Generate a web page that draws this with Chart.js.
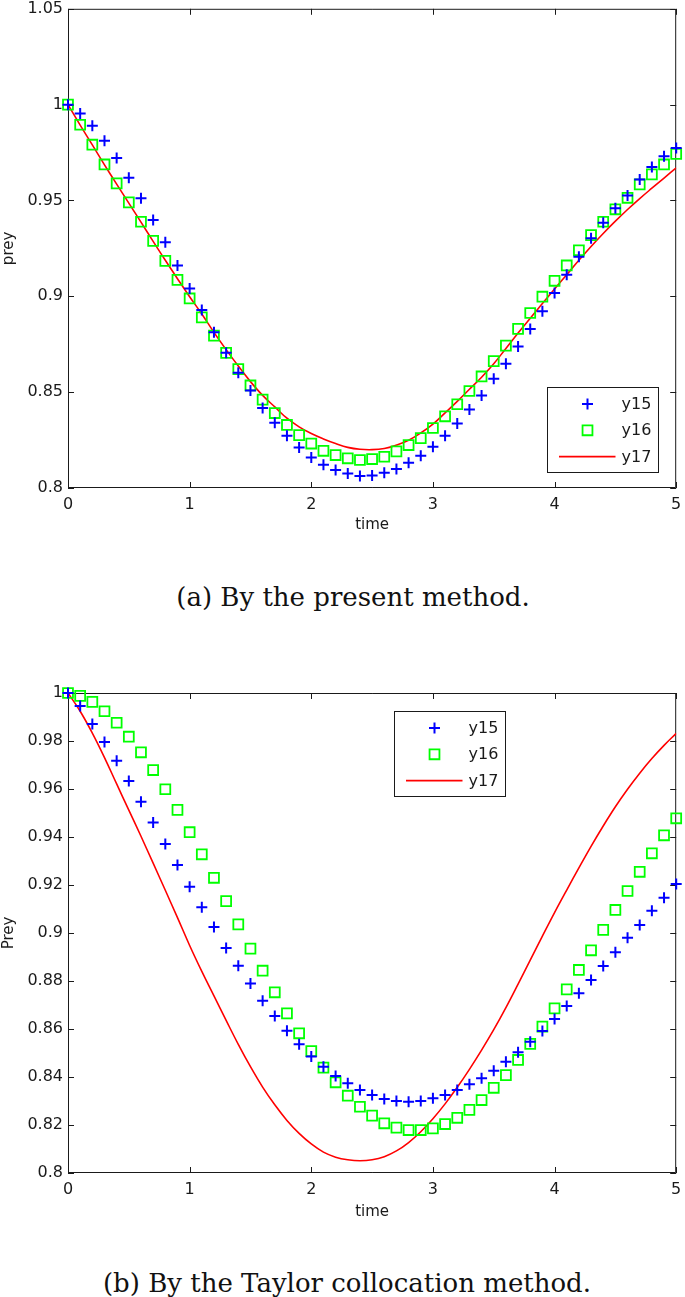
<!DOCTYPE html>
<html>
<head>
<meta charset="utf-8">
<script src="https://cdn.jsdelivr.net/npm/chart.js@4/dist/chart.umd.min.js"></script>
<style>
  html, body { margin: 0; padding: 0; background: #fff; }
  body { width: 685px; height: 1297px; position: relative; overflow: hidden; }
  .box { position: absolute; left: 0; width: 685px; }
  .cap {
    position: absolute; transform: translateX(-50%);
    font-family: 'DejaVu Serif', serif; font-size: 26px; line-height: 30px;
    color: #111; white-space: nowrap;
  }
</style>
</head>
<body>
<div class="box" style="top:0;height:540px"><canvas id="chartA"></canvas></div>
<div class="cap" style="left:353px;top:582px">(a) By the present method.</div>
<div class="box" style="top:680px;height:545px"><canvas id="chartB"></canvas></div>
<div class="cap" style="left:347px;top:1268px">(b) By the Taylor collocation method.</div>
<script>
'use strict'

// time grid shared by both panels
const time = [
  0, 0.1, 0.2, 0.3, 0.4, 0.5, 0.6, 0.7, 0.8, 0.9,
  1, 1.1, 1.2, 1.3, 1.4, 1.5, 1.6, 1.7, 1.8, 1.9,
  2, 2.1, 2.2, 2.3, 2.4, 2.5, 2.6, 2.7, 2.8, 2.9,
  3, 3.1, 3.2, 3.3, 3.4, 3.5, 3.6, 3.7, 3.8, 3.9,
  4, 4.1, 4.2, 4.3, 4.4, 4.5, 4.6, 4.7, 4.8, 4.9, 5,
]

// (a) present method
const y15A = [
  1.0, 0.9954, 0.989, 0.9812, 0.9722, 0.9618, 0.9512, 0.9398, 0.9282, 0.9161,
  0.9041, 0.8929, 0.8812, 0.8705, 0.8601, 0.8509, 0.8417, 0.8341, 0.8272, 0.8211,
  0.8159, 0.8121, 0.8094, 0.8075, 0.8062, 0.8065, 0.808, 0.8099, 0.8132, 0.8168,
  0.8215, 0.8272, 0.8336, 0.8409, 0.8483, 0.857, 0.8648, 0.8738, 0.883, 0.8922,
  0.9017, 0.9112, 0.9206, 0.9303, 0.9384, 0.9459, 0.9526, 0.961, 0.9675, 0.9731, 0.9774,
]
const y16A = [
  1.0, 0.9895, 0.9791, 0.9688, 0.9589, 0.949, 0.9389, 0.9289, 0.9185, 0.9086,
  0.8989, 0.889, 0.8795, 0.8705, 0.862, 0.8535, 0.8461, 0.8391, 0.8329, 0.8276,
  0.8232, 0.8194, 0.8172, 0.8155, 0.8146, 0.8151, 0.8163, 0.8191, 0.8224, 0.826,
  0.8313, 0.8374, 0.8437, 0.8506, 0.8582, 0.8662, 0.8743, 0.883, 0.8913, 0.8998,
  0.9081, 0.9161, 0.924, 0.9319, 0.9389, 0.9454, 0.9514, 0.9584, 0.9636, 0.9688, 0.9743,
]
const y17A = [
  1.0, 0.9893, 0.979, 0.9686, 0.9585, 0.9486, 0.9387, 0.9287, 0.9188, 0.9092,
  0.8998, 0.8908, 0.8812, 0.8722, 0.8636, 0.8555, 0.8483, 0.8423, 0.8364, 0.8319,
  0.8284, 0.8256, 0.8232, 0.8212, 0.8202, 0.82, 0.8206, 0.8224, 0.8249, 0.8287,
  0.8333, 0.8392, 0.8452, 0.8515, 0.8578, 0.8648, 0.8728, 0.8808, 0.8886, 0.8962,
  0.9038, 0.9113, 0.9188, 0.926, 0.9328, 0.9392, 0.9453, 0.951, 0.9564, 0.9617, 0.967,
]

// (b) Taylor collocation method
const y15B = [
  1.0, 0.9946, 0.9871, 0.9796, 0.9718, 0.9633, 0.9547, 0.946, 0.9371, 0.9283,
  0.9193, 0.9107, 0.9025, 0.8938, 0.8864, 0.879, 0.8718, 0.8654, 0.8593, 0.8536,
  0.8485, 0.8443, 0.8404, 0.8374, 0.8346, 0.8325, 0.8308, 0.83, 0.8297, 0.83,
  0.8311, 0.8325, 0.8346, 0.837, 0.8395, 0.8426, 0.8464, 0.8503, 0.8547, 0.8592,
  0.8642, 0.8696, 0.8749, 0.8804, 0.8863, 0.892, 0.898, 0.9033, 0.9093, 0.9147, 0.9204,
]
const y16B = [
  1.0, 0.9988, 0.9963, 0.9924, 0.9876, 0.9818, 0.9753, 0.9679, 0.9599, 0.9513,
  0.942, 0.9328, 0.923, 0.9133, 0.9036, 0.8935, 0.8843, 0.8753, 0.8665, 0.8582,
  0.8508, 0.8439, 0.8378, 0.8322, 0.8276, 0.8239, 0.8207, 0.8189, 0.8179, 0.8179,
  0.8186, 0.8204, 0.823, 0.8263, 0.8304, 0.8355, 0.8408, 0.8471, 0.8538, 0.861,
  0.8686, 0.8765, 0.8846, 0.8928, 0.9013, 0.9096, 0.9175, 0.9255, 0.9332, 0.9407, 0.9478,
]
const y17B = [
  1.0, 0.9924, 0.9833, 0.9731, 0.9621, 0.9512, 0.9403, 0.9291, 0.9178, 0.9064,
  0.8948, 0.884, 0.8738, 0.8636, 0.8536, 0.8443, 0.8358, 0.8284, 0.8219, 0.8165,
  0.8121, 0.8087, 0.8066, 0.8055, 0.8051, 0.8055, 0.8068, 0.8092, 0.8127, 0.8172,
  0.8226, 0.8288, 0.8357, 0.8432, 0.8512, 0.8597, 0.8689, 0.8787, 0.8887, 0.8987,
  0.9085, 0.9179, 0.9271, 0.9361, 0.9446, 0.9526, 0.9599, 0.9666, 0.9727, 0.9782, 0.9832,
]

const seriesLabels = ['y15', 'y16', 'y17']
const xTicks = [0, 1, 2, 3, 4, 5]
const yTicksA = [0.8, 0.85, 0.9, 0.95, 1, 1.05]
const yTicksB = [0.8, 0.82, 0.84, 0.86, 0.88, 0.9, 0.92, 0.94, 0.96, 0.98, 1]

const INK = '#1a1a1a'
const tickFont = { family: 'DejaVu Sans', size: 16 }
const titleFont = { family: 'DejaVu Sans', size: 15 }

function pts(ys) {
  return ys.map((y, i) => ({ x: time[i], y: y }))
}

function drawMarker(ctx, style, x, y, r, color, lw) {
  ctx.strokeStyle = color
  ctx.lineWidth = lw
  ctx.beginPath()
  if (style === 'cross') {
    ctx.moveTo(x - r, y)
    ctx.lineTo(x + r, y)
    ctx.moveTo(x, y - r)
    ctx.lineTo(x, y + r)
  } else {
    const s = r * Math.SQRT1_2
    ctx.rect(x - s, y - s, 2 * s, 2 * s)
  }
  ctx.stroke()
}

// matlab style box with inward ticks on all four sides
const axesFrame = {
  id: 'axesFrame',
  beforeDatasetsDraw(chart) {
    const { ctx, chartArea: a, scales } = chart
    const len = 6
    ctx.save()
    ctx.strokeStyle = INK
    ctx.lineWidth = 1
    ctx.beginPath()
    ctx.rect(a.left + 0.5, a.top + 0.5, a.width - 1, a.height - 1)
    scales.x.ticks.forEach((t) => {
      const px = Math.round(scales.x.getPixelForValue(t.value)) + 0.5
      ctx.moveTo(px, a.bottom)
      ctx.lineTo(px, a.bottom - len)
      ctx.moveTo(px, a.top)
      ctx.lineTo(px, a.top + len)
    })
    scales.y.ticks.forEach((t) => {
      const py = Math.round(scales.y.getPixelForValue(t.value)) + 0.5
      ctx.moveTo(a.left, py)
      ctx.lineTo(a.left + len, py)
      ctx.moveTo(a.right, py)
      ctx.lineTo(a.right - len, py)
    })
    ctx.stroke()
    ctx.restore()
  },
}

const boxLegend = {
  id: 'boxLegend',
  afterDatasetsDraw(chart, args, o) {
    const { ctx, chartArea: a } = chart
    const x0 = Math.round(a.left + o.x) + 0.5
    const y0 = Math.round(a.top + o.y) + 0.5
    ctx.save()
    ctx.fillStyle = '#fff'
    ctx.fillRect(x0, y0, 111, 85)
    ctx.strokeStyle = INK
    ctx.lineWidth = 1
    ctx.strokeRect(x0, y0, 111, 85)
    ctx.font = '16px "DejaVu Sans"'
    ctx.textBaseline = 'middle'
    chart.data.datasets.forEach((ds, i) => {
      const ry = y0 + 16.5 + i * 26.3
      if (ds.showLine === false) {
        drawMarker(ctx, ds.pointStyle, x0 + 40, ry, ds.pointRadius, ds.borderColor, ds.pointBorderWidth)
      } else {
        ctx.strokeStyle = ds.borderColor
        ctx.lineWidth = ds.borderWidth
        ctx.beginPath()
        ctx.moveTo(x0 + 11.5, ry)
        ctx.lineTo(x0 + 68, ry)
        ctx.stroke()
      }
      ctx.fillStyle = INK
      ctx.fillText(ds.label, x0 + 74, ry + 1)
    })
    ctx.restore()
  },
}

function makeDatasets(a, b, c) {
  return [
    {
      label: seriesLabels[0], data: pts(a), showLine: false,
      pointStyle: 'cross', pointRadius: 5.5, pointBorderWidth: 2,
      borderColor: '#0000ff', pointBackgroundColor: 'rgba(0,0,0,0)', clip: false,
    },
    {
      label: seriesLabels[1], data: pts(b), showLine: false,
      pointStyle: 'rect', pointRadius: 7, pointBorderWidth: 1.8,
      borderColor: '#00ff00', pointBackgroundColor: 'rgba(0,0,0,0)', clip: false,
    },
    {
      label: seriesLabels[2], data: pts(c), pointRadius: 0,
      borderColor: '#ff0000', borderWidth: 1.6, tension: 0.4,
    },
  ]
}

function makeChart(id, datasets, yMin, yMax, yTicks, yTitle, topPad, xTitlePad, legendPos) {
  return new Chart(document.getElementById(id), {
    type: 'line',
    data: { datasets },
    plugins: [axesFrame, boxLegend],
    options: {
      responsive: true,
      maintainAspectRatio: false,
      animation: false,
      devicePixelRatio: 1,
      events: [],
      layout: { padding: { top: topPad, right: 6, left: 0, bottom: 0 } },
      plugins: {
        legend: { display: false },
        tooltip: { enabled: false },
        boxLegend: legendPos,
      },
      scales: {
        x: {
          type: 'linear', min: 0, max: 5,
          afterBuildTicks: (s) => { s.ticks = xTicks.map((v) => ({ value: v })) },
          afterFit: (s) => { s.height = 52; s.paddingLeft = 0; s.paddingRight = 0 },
          ticks: { callback: (v) => String(v), font: tickFont, color: INK, padding: 7, maxRotation: 0, autoSkip: false },
          grid: { display: false, drawTicks: false },
          border: { display: false },
          title: { display: true, text: 'time', font: titleFont, color: INK, padding: { top: 0, bottom: xTitlePad } },
        },
        y: {
          type: 'linear', min: yMin, max: yMax,
          afterBuildTicks: (s) => { s.ticks = yTicks.map((v) => ({ value: v })) },
          afterFit: (s) => { s.width = 68; s.paddingTop = 0; s.paddingBottom = 0 },
          ticks: { callback: (v) => String(v), font: tickFont, color: INK, padding: 5, autoSkip: false },
          grid: { display: false, drawTicks: false },
          border: { display: false },
          title: { display: true, text: yTitle, font: titleFont, color: INK, padding: { top: 0, bottom: 0 } },
        },
      },
    },
  })
}

makeChart('chartA', makeDatasets(y15A, y16A, y17A), 0.8, 1.05, yTicksA, 'prey', 7, 6, { x: 479, y: 378 })
makeChart('chartB', makeDatasets(y15B, y16B, y17B), 0.8, 1.0, yTicksB, 'Prey', 13, 4, { x: 326, y: 18 })
</script>
</body>
</html>
